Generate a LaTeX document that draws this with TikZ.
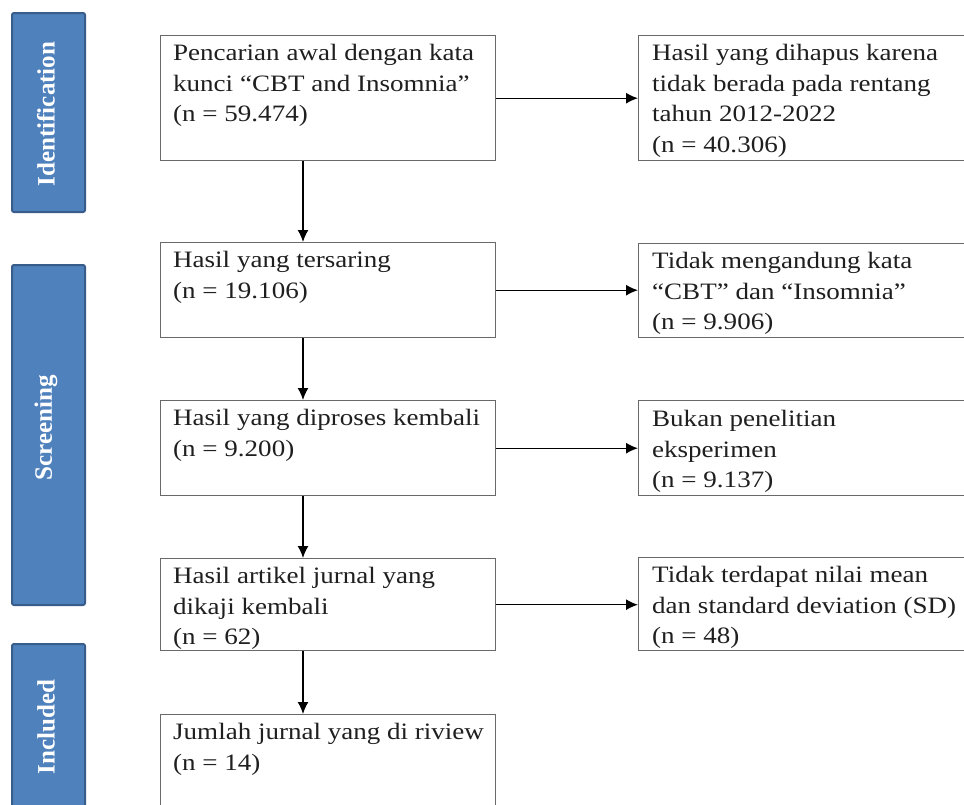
\documentclass[tikz,border=0pt]{standalone}
\usepackage{fontspec}
\setmainfont{Liberation Serif}[FakeStretch=1.15]
\newfontfamily\barfont{Liberation Serif}
\usetikzlibrary{arrows.meta}
\definecolor{barblue}{RGB}{79,129,189}
\definecolor{bardark}{RGB}{56,93,138}
\definecolor{boxgray}{RGB}{105,105,105}
\begin{document}
\begin{tikzpicture}[x=1pt,y=-1pt,
  box/.style={draw=boxgray, line width=1.4pt, fill=white, anchor=north west, inner sep=0pt},
  txt/.style={anchor=north west, inner sep=0pt, align=left, text=black!88, font=\fontsize{23.5}{30.5}\selectfont},
  bar/.style={draw=bardark, fill=barblue, line width=2pt, rounded corners=2pt},
  bartxt/.style={rotate=90, text=white, inner sep=0pt, font=\barfont\bfseries\fontsize{25}{30}\selectfont},
  arr/.style={draw=black, line width=1.4pt, -{Latex[length=12pt,width=11pt]}}]
\clip (0,0) rectangle (964,804);
\fill[white] (0,0) rectangle (964,804);
% side bars
\draw[bar] (12,13) rectangle (85,212);
\draw[bar] (12,265) rectangle (85,605);
\draw[bar] (12,644) rectangle (85,830);
\node[bartxt] (lid) at (46,114) {Identification};
\node[bartxt] (lsc) at (46,428) {Screening};
\node[bartxt] (lin) at (46,727) {Included};
% main boxes
\node[box, minimum width=335pt, minimum height=125pt] (b1) at (160,35) {};
\node[box, minimum width=335pt, minimum height=95pt] (b2) at (160,242) {};
\node[box, minimum width=335pt, minimum height=95pt] (b3) at (160,400) {};
\node[box, minimum width=335pt, minimum height=92pt] (b4) at (160,558) {};
\node[box, minimum width=335pt, minimum height=120pt] (b5) at (160,714) {};
% right boxes
\node[box, minimum width=350pt, minimum height=125pt] (r1) at (638,35) {};
\node[box, minimum width=350pt, minimum height=94pt] (r2) at (638,243) {};
\node[box, minimum width=350pt, minimum height=95pt] (r3) at (638,400) {};
\node[box, minimum width=350pt, minimum height=93pt] (r4) at (638,557) {};
% texts
\node[txt] (t1) at (173,44) {Pencarian awal dengan kata\\kunci “CBT and Insomnia”\\(n = 59.474)};
\node[txt] (t2) at (173,251) {Hasil yang tersaring\\(n = 19.106)};
\node[txt] (t3) at (173,409) {Hasil yang diproses kembali\\(n = 9.200)};
\node[txt] (t4) at (173,567) {Hasil artikel jurnal yang\\dikaji kembali\\(n = 62)};
\node[txt] (t5) at (173,723) {Jumlah jurnal yang di riview\\(n = 14)};
\node[txt] (u1) at (652,44) {Hasil yang dihapus karena\\tidak berada pada rentang\\tahun 2012-2022\\(n = 40.306)};
\node[txt] (u2) at (652,252) {Tidak mengandung kata\\“CBT” dan “Insomnia”\\(n = 9.906)};
\node[txt] (u3) at (652,410) {Bukan penelitian\\eksperimen\\(n = 9.137)};
\node[txt] (u4) at (652,566) {Tidak terdapat nilai mean\\dan standard deviation (SD)\\(n = 48)};
% connectors
\coordinate (vx) at (303,0);
\draw[arr] (b1.south -| vx) -- (b2.north -| vx);
\draw[arr] (b2.south -| vx) -- (b3.north -| vx);
\draw[arr] (b3.south -| vx) -- (b4.north -| vx);
\draw[arr] (b4.south -| vx) -- (b5.north -| vx);
\draw[arr] (b1.east) -- (b1.east -| r1.west);
\draw[arr] (b2.east) -- (b2.east -| r2.west);
\draw[arr] (b3.east) -- (b3.east -| r3.west);
\draw[arr] (b4.east) -- (b4.east -| r4.west);
\end{tikzpicture}
\end{document}
